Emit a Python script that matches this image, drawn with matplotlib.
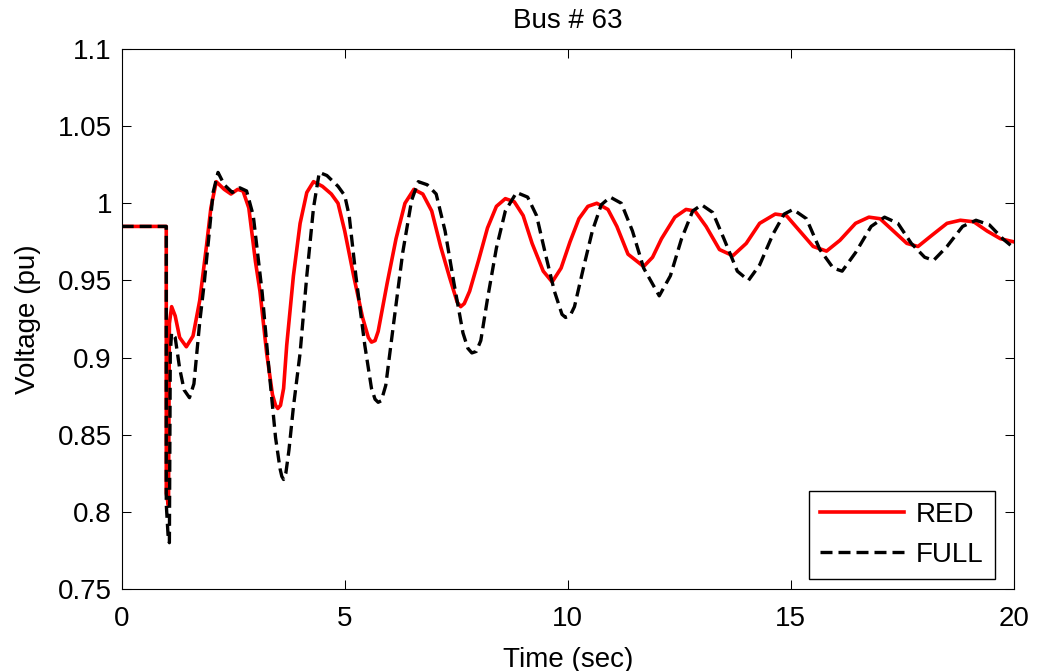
import numpy as np
import matplotlib
matplotlib.use('Agg')
import matplotlib.pyplot as plt

plt.rcParams['font.family'] = ['Liberation Sans', 'DejaVu Sans']

# ---------------------------------------------------------------------------
# Data (time in s, voltage in pu)
# ---------------------------------------------------------------------------
t_red = [0, 1.0, 1.0, 1.05, 1.07, 1.12, 1.2, 1.3, 1.45, 1.6, 1.75, 1.9, 2.0,
         2.12, 2.3, 2.45, 2.6, 2.72, 2.85, 3.0, 3.1, 3.25, 3.38, 3.45, 3.5,
         3.56, 3.63, 3.7, 3.85, 4.0, 4.15, 4.3, 4.5, 4.7, 4.85, 5.0, 5.2,
         5.4, 5.53, 5.6, 5.68, 5.75, 5.95, 6.15, 6.35, 6.55, 6.75, 6.95,
         7.15, 7.35, 7.52, 7.6, 7.68, 7.8, 8.0, 8.2, 8.4, 8.6, 8.8, 9.0, 9.2,
         9.45, 9.65, 9.85, 10.05, 10.25, 10.45, 10.65, 10.9, 11.1, 11.35,
         11.7, 11.9, 12.1, 12.4, 12.65, 12.85, 13.1, 13.4, 13.7, 14.0, 14.3,
         14.65, 14.9, 15.2, 15.5, 15.8, 16.1, 16.45, 16.75, 17.0, 17.3, 17.6,
         17.85, 18.15, 18.5, 18.8, 19.1, 19.4, 19.7, 20.0]
v_red = [0.985, 0.985, 0.812, 0.804, 0.922, 0.933, 0.927, 0.913, 0.907,
         0.914, 0.937, 0.972, 0.997, 1.014, 1.009, 1.006, 1.009, 1.008,
         0.997, 0.962, 0.943, 0.903, 0.876, 0.869, 0.867, 0.869, 0.880,
         0.908, 0.953, 0.987, 1.007, 1.014, 1.011, 1.006, 1.000, 0.982,
         0.953, 0.926, 0.913, 0.910, 0.911, 0.917, 0.948, 0.977, 1.000,
         1.009, 1.006, 0.995, 0.972, 0.952, 0.936, 0.933, 0.935, 0.943,
         0.963, 0.984, 0.998, 1.003, 1.001, 0.992, 0.974, 0.956, 0.949,
         0.958, 0.975, 0.990, 0.998, 1.000, 0.996, 0.985, 0.967, 0.959,
         0.965, 0.977, 0.991, 0.996, 0.995, 0.985, 0.970, 0.966, 0.974,
         0.987, 0.993, 0.992, 0.982, 0.972, 0.969, 0.976, 0.987, 0.991,
         0.990, 0.982, 0.974, 0.972, 0.979, 0.987, 0.989, 0.988, 0.982,
         0.977, 0.975]

t_full = [0, 1.0, 1.0, 1.04, 1.07, 1.09, 1.12, 1.2, 1.3, 1.4, 1.52, 1.62,
          1.75, 1.85, 1.95, 2.05, 2.16, 2.3, 2.48, 2.65, 2.8, 2.95, 3.05,
          3.15, 3.3, 3.45, 3.55, 3.59, 3.63, 3.68, 3.75, 3.85, 4.0, 4.15,
          4.3, 4.43, 4.6, 4.85, 5.0, 5.1, 5.25, 5.45, 5.6, 5.68, 5.75, 5.82,
          5.92, 6.1, 6.3, 6.5, 6.65, 6.85, 7.05, 7.25, 7.45, 7.65, 7.76,
          7.85, 7.95, 8.05, 8.2, 8.4, 8.6, 8.85, 9.1, 9.3, 9.5, 9.7, 9.87,
          9.95, 10.05, 10.15, 10.35, 10.55, 10.75, 10.95, 11.2, 11.45, 11.7,
          12.05, 12.3, 12.55, 12.8, 13.0, 13.25, 13.5, 13.8, 14.05, 14.3,
          14.6, 14.85, 15.05, 15.35, 15.65, 15.95, 16.15, 16.45, 16.8, 17.1,
          17.4, 17.7, 18.0, 18.2, 18.5, 18.85, 19.15, 19.45, 19.75, 20.0]
v_full = [0.985, 0.985, 0.805, 0.785, 0.780, 0.903, 0.916, 0.913, 0.893,
          0.879, 0.874, 0.883, 0.923, 0.948, 0.977, 1.007, 1.020, 1.012,
          1.007, 1.010, 1.008, 0.992, 0.967, 0.942, 0.893, 0.848, 0.828,
          0.823, 0.821, 0.825, 0.840, 0.868, 0.903, 0.953, 0.997, 1.020,
          1.018, 1.011, 1.005, 0.992, 0.953, 0.908, 0.880, 0.873, 0.871,
          0.872, 0.882, 0.923, 0.968, 1.002, 1.014, 1.012, 1.006, 0.982,
          0.948, 0.916, 0.906, 0.903, 0.904, 0.911, 0.938, 0.971, 0.995,
          1.007, 1.004, 0.992, 0.967, 0.943, 0.928, 0.926, 0.927, 0.933,
          0.958, 0.982, 0.999, 1.004, 1.000, 0.982, 0.958, 0.940, 0.953,
          0.977, 0.995, 0.999, 0.994, 0.977, 0.956, 0.950, 0.960, 0.980,
          0.993, 0.996, 0.990, 0.970, 0.958, 0.956, 0.968, 0.985, 0.991,
          0.987, 0.974, 0.965, 0.963, 0.972, 0.985, 0.989, 0.986, 0.977,
          0.971]

x_ticks = [0, 5, 10, 15, 20]
y_ticks = [0.75, 0.8, 0.85, 0.9, 0.95, 1.0, 1.05, 1.1]
y_tick_labels = ['0.75', '0.8', '0.85', '0.9', '0.95', '1', '1.05', '1.1']

# ---------------------------------------------------------------------------
# Plot
# ---------------------------------------------------------------------------
fig = plt.figure(figsize=(10.38, 6.71), dpi=100)
ax = fig.add_axes([0.1172, 0.1222, 0.8596, 0.8048])

ax.plot(t_red, v_red, color='red', linewidth=2.6, label='RED')
ax.plot(t_full, v_full, color='black', linewidth=2.4,
        linestyle=(0, (3.6, 1.8)), label='FULL')

ax.set_xlim(0, 20)
ax.set_ylim(0.75, 1.1)
ax.set_xticks(x_ticks)
ax.set_xticklabels([str(x) for x in x_ticks])
ax.set_yticks(y_ticks)
ax.set_yticklabels(y_tick_labels)

ax.tick_params(direction='in', length=6.5, width=0.75, top=True,
               right=True, labelsize=20, pad=7)
ax.tick_params(axis='x', pad=12)
for sp in ax.spines.values():
    sp.set_linewidth(0.8)

ax.set_xlabel('Time (sec)', fontsize=20, labelpad=11)
ax.set_ylabel('Voltage (pu)', fontsize=20, labelpad=12)
ax.set_title('Bus # 63', fontsize=20, pad=15)

leg = ax.legend(loc='lower right', bbox_to_anchor=(0.9787, 0.0185),
                borderaxespad=0, fontsize=20, fancybox=False,
                handlelength=3.0, handletextpad=0.45, borderpad=0.4,
                labelspacing=0.5)
leg.get_frame().set_edgecolor('black')
leg.get_frame().set_linewidth(1.0)
leg.get_frame().set_alpha(1.0)

fig.savefig('out.png', dpi=100)
